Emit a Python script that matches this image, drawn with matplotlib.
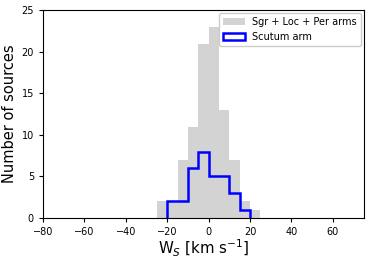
import numpy as np
import matplotlib
matplotlib.use('Agg')
from matplotlib import pyplot as plt

# bin edges (km/s) and counts
edges = [-25, -20, -15, -10, -5, 0, 5, 10, 15, 20, 25]
sgr_loc_per = [2, 2, 7, 11, 21, 23, 13, 7, 2, 1]
scutum_edges = [-20, -15, -10, -5, 0, 5, 10, 15, 20]
scutum = [2, 2, 6, 8, 5, 5, 3, 1]

fig = plt.figure(figsize=(3.74, 2.61), dpi=100)
ax = fig.add_axes([0.115, 0.165, 0.858, 0.795])

centers = (np.array(edges[:-1]) + np.array(edges[1:])) / 2
ax.hist(centers, bins=edges, weights=sgr_loc_per, color='lightgray',
        label='Sgr + Loc + Per arms')
sc_centers = (np.array(scutum_edges[:-1]) + np.array(scutum_edges[1:])) / 2
ax.hist(sc_centers, bins=scutum_edges, weights=scutum, histtype='step',
        color='blue', linewidth=1.8, label='Scutum arm')

ax.set_xlim(-80, 75)
ax.set_ylim(0, 25)
ax.set_xticks([-80, -60, -40, -20, 0, 20, 40, 60])
ax.set_yticks([0, 5, 10, 15, 20, 25])
ax.tick_params(labelsize=7, length=3)
ax.set_xlabel(r'W$_S$ [km s$^{-1}$]', fontsize=10.8, labelpad=1)
ax.set_ylabel('Number of sources', fontsize=10.5, labelpad=3)
ax.legend(loc='upper right', fontsize=7, handlelength=2.2,
          borderaxespad=0.3, framealpha=1)

plt.savefig('out.png', dpi=100)
